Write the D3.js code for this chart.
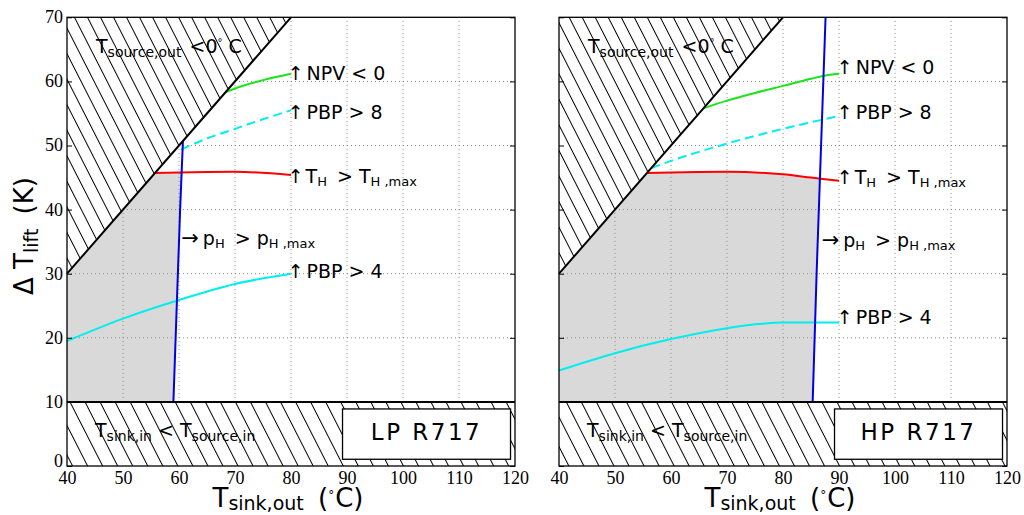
<!DOCTYPE html>
<html>
<head>
<meta charset="utf-8">
<script src="https://cdn.jsdelivr.net/npm/d3@7"></script>
<style>
  body { margin: 0; background: #fff; }
  text { font-family: "DejaVu Sans", sans-serif; fill: #000; }
  .tick text { font-family: "Liberation Serif", "Times New Roman", serif; font-size: 18px; }
</style>
</head>
<body>
<svg id="chart" width="1024" height="515"></svg>
<script>
// ---- axis ticks ----
const xTicks = [40, 50, 60, 70, 80, 90, 100, 110, 120];
const yTicks = [0, 10, 20, 30, 40, 50, 60, 70];
const xGrid = [50, 60, 70, 80, 90, 100, 110];
const yGrid = [20, 30, 40, 50, 60];

// ---- limits shared by both panels ----
const sourceLimit = [[40, 30], [80, 70]];   // T_source,out = 0 °C  (ΔT_lift = T_sink,out - 10)
const sinkLimit = 10;                        // T_sink,in < T_source,in below this lift

// ---- LP R717 ----
const lpNpv  = [[68.3, 58.3], [70, 58.9], [75, 60.2], [80, 61.2]];
const lpPbp8 = [[60.4, 49.4], [65, 51.1], [70, 52.6], [75, 54.1], [80, 55.5]];
const lpTh   = [[55.7, 45.7], [60, 45.8], [70, 45.9], [80, 45.4]];
const lpPh   = [[59.0, 10], [59.6, 25], [60.2, 40], [60.7, 50.7]];
const lpPbp4 = [[40, 19.5], [50, 23.0], [60, 25.9], [70, 28.4], [80, 30.0]];

// ---- HP R717 ----
const hpNpv  = [[65.8, 55.8], [70, 57.0], [75, 58.2], [80, 59.3], [85, 60.4], [88, 61.0], [90, 61.2]];
const hpPbp8 = [[56.5, 46.5], [60, 47.6], [70, 50.3], [80, 52.6], [90, 54.6]];
const hpTh   = [[55.8, 45.7], [60, 45.8], [70, 45.9], [80, 45.5], [85, 45.0], [90, 44.5]];
const hpPh   = [[85.3, 10], [86.0, 30], [86.8, 50], [87.6, 70]];
const hpPbp4 = [[40, 14.9], [50, 17.6], [60, 19.8], [70, 21.5], [75, 22.1], [80, 22.4], [90, 22.4]];

// ---- text ----
const lpName = "LP R717";
const hpName = "HP R717";

const panels = [
  { name: lpName, left: 67, yLabels: true,
    npv: lpNpv, pbp8: lpPbp8, th: lpTh, ph: lpPh, pbp4: lpPbp4,
    notes: { npv: [79.4, 60.2], pbp8: [79.4, 54.1], th: [79.4, 44.15], ph: [60.4, 34.4], pbp4: [79.4, 29.3] } },
  { name: hpName, left: 559, yLabels: false,
    npv: hpNpv, pbp8: hpPbp8, th: hpTh, ph: hpPh, pbp4: hpPbp4,
    notes: { npv: [89.6, 61.2], pbp8: [89.6, 54.1], th: [89.6, 44.0], ph: [86.9, 34.2], pbp4: [89.6, 22.15] } }
];

const svg = d3.select("#chart");
const plotW = 448, plotTop = 17.3, plotBottom = 466;

const colors = { npv: "#19e619", pbp: "#00eeee", th: "#ff0000", ph: "#0000e6", area: "#d9d9d9" };

// hatch patterns
const defs = svg.append("defs");
function hatch(id, spacing) {
  const p = defs.append("pattern").attr("id", id)
    .attr("patternUnits", "userSpaceOnUse")
    .attr("width", spacing).attr("height", spacing)
    .attr("patternTransform", "rotate(-27)");
  p.append("rect").attr("width", spacing).attr("height", spacing).attr("fill", "#fff");
  p.append("line").attr("x1", 0.5).attr("y1", 0).attr("x2", 0.5).attr("y2", spacing)
    .attr("stroke", "#000").attr("stroke-width", 1);
}
hatch("hatchTop", 11.6);
hatch("hatchBottom", 13.4);

// rich text with sub/superscripts
function rich(g, x, y, parts, size, subSize, anchor) {
  const t = g.append("text").attr("x", x).attr("y", y).attr("font-size", size);
  if (anchor) t.attr("text-anchor", anchor);
  let cur = 0;
  parts.forEach(p => {
    const off = p.sub ? p.sub : 0;
    const ts = t.append("tspan").text(p.t).attr("dy", off - cur);
    if (p.dx) ts.attr("dx", p.dx);
    if (p.sub) ts.attr("font-size", p.size || subSize);
    else if (p.size) ts.attr("font-size", p.size);
    cur = off;
  });
  return t;
}

function interpYByX(pts, x) {
  for (let i = 1; i < pts.length; i++) {
    if (x <= pts[i][0]) {
      const t = (x - pts[i-1][0]) / (pts[i][0] - pts[i-1][0]);
      return pts[i-1][1] + t * (pts[i][1] - pts[i-1][1]);
    }
  }
  return pts[pts.length-1][1];
}
function interpXByY(pts, y) {
  for (let i = 1; i < pts.length; i++) {
    if (y <= pts[i][1]) {
      const t = (y - pts[i-1][1]) / (pts[i][1] - pts[i-1][1]);
      return pts[i-1][0] + t * (pts[i][0] - pts[i-1][0]);
    }
  }
  return pts[pts.length-1][0];
}

// operating window: below the source limit, below T_H,max, left of p_H,max, above the sink limit
function windowPolygon(th, ph, xMin) {
  const pts = [[xMin, sinkLimit], [xMin, interpYByX(sourceLimit, xMin)]];
  let cross = null;
  for (let i = 0; i < th.length; i++) {
    const f = th[i][0] - interpXByY(ph, th[i][1]);
    if (f < 0) { pts.push(th[i]); continue; }
    const a = th[i-1], b = th[i];
    const fa = a[0] - interpXByY(ph, a[1]);
    const t = fa / (fa - f);
    cross = [a[0] + t * (b[0] - a[0]), a[1] + t * (b[1] - a[1])];
    break;
  }
  pts.push(cross);
  for (let i = ph.length - 1; i >= 0; i--) if (ph[i][1] < cross[1]) pts.push(ph[i]);
  return pts;
}

panels.forEach(P => {
  const x = d3.scaleLinear().domain([40, 120]).range([P.left, P.left + plotW]);
  const y = d3.scaleLinear().domain([0, 70]).range([plotBottom, plotTop]);
  const g = svg.append("g");
  const pt = d => [x(d[0]), y(d[1])];
  const poly = d3.line().x(d => x(d[0])).y(d => y(d[1]));
  const smooth = d3.line().x(d => x(d[0])).y(d => y(d[1])).curve(d3.curveMonotoneX);

  // feasible operating window
  g.append("path").attr("d", poly(windowPolygon(P.th, P.ph, 40)) + "Z").attr("fill", colors.area);

  // dotted grid
  const grid = g.append("g").attr("stroke", "#8a8a8a").attr("stroke-width", 1).attr("stroke-dasharray", "1,3");
  xGrid.forEach(v => grid.append("line").attr("x1", x(v)).attr("x2", x(v)).attr("y1", y(sinkLimit)).attr("y2", y(70)));
  yGrid.forEach(v => grid.append("line").attr("x1", x(40)).attr("x2", x(120)).attr("y1", y(v)).attr("y2", y(v)));

  // hatched infeasible regions
  g.append("path").attr("d", poly([sourceLimit[0], sourceLimit[1], [40, 70]]) + "Z").attr("fill", "url(#hatchTop)");
  g.append("rect").attr("x", x(40)).attr("y", y(sinkLimit)).attr("width", x(120) - x(40))
    .attr("height", y(0) - y(sinkLimit)).attr("fill", "url(#hatchBottom)");

  // constraint curves
  const curve = (data, color, gen, dash) => {
    const p = g.append("path").attr("d", gen(data)).attr("fill", "none")
      .attr("stroke", color).attr("stroke-width", 2);
    if (dash) p.attr("stroke-dasharray", dash);
  };
  curve(P.pbp4, colors.pbp, smooth);
  curve(P.npv, colors.npv, smooth);
  curve(P.pbp8, colors.pbp, smooth, "9,5");
  curve(P.th, colors.th, smooth);
  curve(P.ph, colors.ph, poly);

  // limit lines
  g.append("path").attr("d", poly(sourceLimit)).attr("stroke", "#000").attr("stroke-width", 2).attr("fill", "none");
  g.append("line").attr("x1", x(40)).attr("x2", x(120)).attr("y1", y(sinkLimit)).attr("y2", y(sinkLimit))
    .attr("stroke", "#000").attr("stroke-width", 2);

  // name box
  const bx0 = x(89.2), bx1 = x(119.2), by0 = y(8.9), by1 = y(1.05);
  g.append("rect").attr("x", bx0).attr("y", by0).attr("width", bx1 - bx0).attr("height", by1 - by0)
    .attr("fill", "#fff").attr("stroke", "#000").attr("stroke-width", 1.3);
  g.append("text").attr("x", (bx0 + bx1) / 2).attr("y", by0 + 31).attr("text-anchor", "middle")
    .attr("font-size", 23).attr("letter-spacing", "2.5px").text(P.name);

  // axes
  const axB = g.append("g").attr("transform", `translate(0,${plotBottom})`)
    .call(d3.axisBottom(x).tickValues(xTicks).tickSize(0).tickPadding(5).tickFormat(d3.format("d")));
  const axL = g.append("g").attr("transform", `translate(${x(40)},0)`)
    .call(d3.axisLeft(y).tickValues(yTicks).tickSizeInner(-5).tickSizeOuter(0).tickPadding(4)
      .tickFormat(P.yLabels ? d3.format("d") : ""));
  const axR = g.append("g").attr("transform", `translate(${x(120)},0)`)
    .call(d3.axisRight(y).tickValues(yTicks).tickSizeInner(-5).tickSizeOuter(0).tickFormat(""));
  [axB, axL, axR].forEach(a => { a.select(".domain").remove(); a.selectAll("line").attr("stroke", "#000"); });
  axL.selectAll("text").attr("dy", d => d === 0 ? "0.05em" : "0.3em");

  // frame
  g.append("rect").attr("x", x(40)).attr("y", y(70)).attr("width", x(120) - x(40)).attr("height", y(0) - y(70))
    .attr("fill", "none").attr("stroke", "#000").attr("stroke-width", 1.3);

  // region labels
  rich(g, x(40) + 29, 53, [{ t: "T" }, { t: "source,out", sub: 3.5 }, { t: " <0", dx: 2 }, { t: "°", sub: -7, size: 10 }, { t: " C" }], 19, 14);
  rich(g, x(40) + 28, 437, [{ t: "T" }, { t: "sink,in", sub: 3.5 }, { t: " < T" }, { t: "source,in", sub: 3.5 }], 19, 14);

  // constraint annotations
  const N = P.notes;
  const up = (k, parts) => {
    const [px, py] = pt(N[k]);
    rich(g, px, py, [{ t: "↑", size: 19 }, ...parts], 19, 13);
  };
  up("npv", [{ t: "NPV < 0", dx: 3 }]);
  up("pbp8", [{ t: "PBP > 8", dx: 3 }]);
  up("th", [{ t: "T", dx: 2 }, { t: "H", sub: 3 }, { t: " > T", dx: 4 }, { t: "H ,max", sub: 3 }]);
  up("pbp4", [{ t: "PBP > 4", dx: 3 }]);
  const [qx, qy] = pt(N.ph);
  rich(g, qx, qy, [{ t: "→", size: 21 }, { t: "p", dx: 4 }, { t: "H", sub: 3 }, { t: " > p", dx: 4 }, { t: "H ,max", sub: 3 }], 19, 13);

  // axis title
  rich(g, x(80) - 3, 507, [{ t: "T" }, { t: "sink,out", sub: 3, size: 19 }, { t: " (", dx: 6 }, { t: "°", sub: -8, size: 12 }, { t: "C)", dx: 1 }], 26, 19, "middle");
});

// vertical axis title
const yt = svg.append("g").attr("transform", "translate(33,236) rotate(-90)");
rich(yt, 0, 0, [{ t: "Δ T" }, { t: "lift", sub: 5, size: 19 }, { t: " (K)", dx: 6 }], 26, 19, "middle");
</script>
</body>
</html>
